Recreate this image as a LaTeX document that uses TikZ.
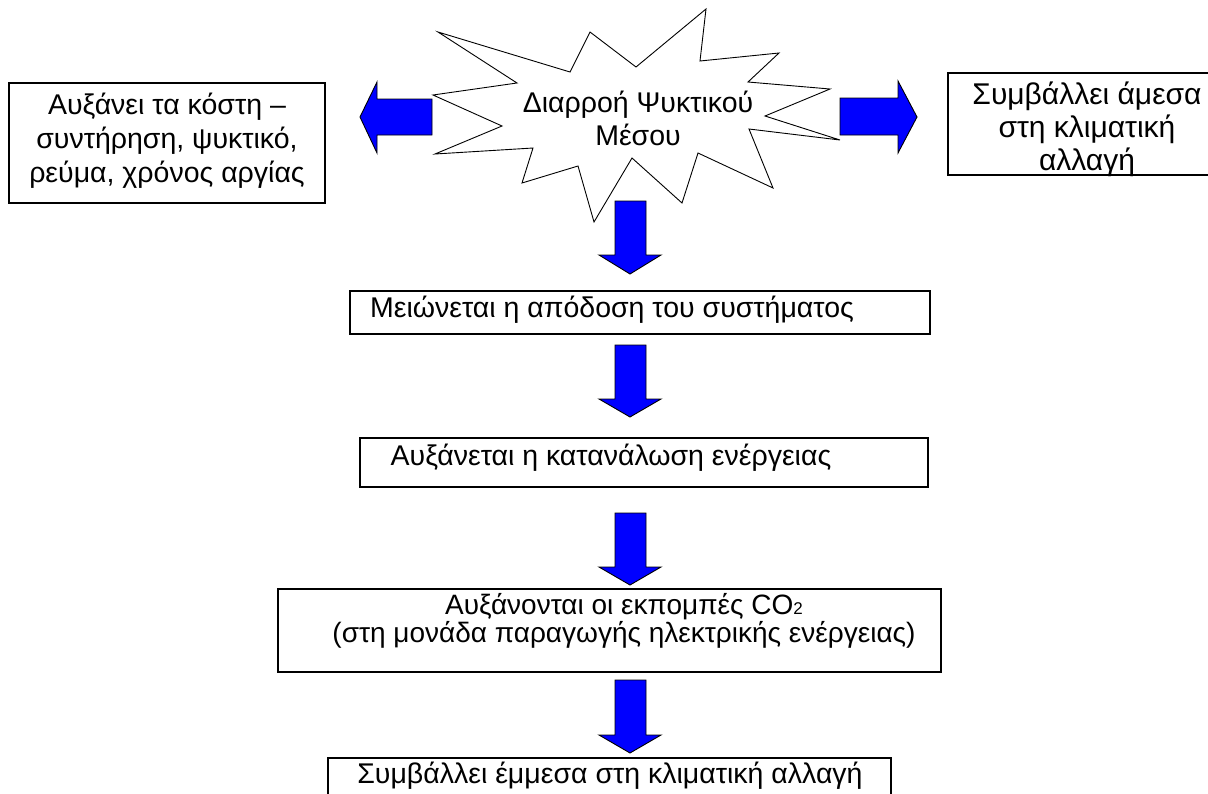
\documentclass[tikz,border=0pt]{standalone}
\usepackage{fontspec}
\setmainfont{Liberation Sans}
\begin{document}
\begin{tikzpicture}[x=1pt,y=-1pt,
  box/.style={draw, line width=1.6pt, inner sep=0pt},
  bigtxt/.style={font=\fontsize{28.5}{34}\selectfont, align=center, inner sep=0pt},
  smalltxt/.style={font=\fontsize{28.5}{28}\selectfont, align=center, inner sep=0pt},
  blockarrow/.style={draw, line width=0.9pt, fill=blue, line join=miter},
  burst/.style={draw, line width=0.9pt, fill=white, line join=miter}]
\useasboundingbox (0,0) rectangle (1208,793);
\clip (0,0) rectangle (1208,793);

% starburst
\draw[burst] (438,32) -- (570,72) -- (590,32) -- (636,67) -- (706,9) -- (700,61)
  -- (779,53) -- (748,82) -- (830,89) -- (765,116) -- (840,140) -- (749,129)
  -- (773,188) -- (698,153) -- (682,203) -- (632,158) -- (594,222) -- (578,166)
  -- (522,183) -- (533,148) -- (435,154) -- (502,126) -- (433,95) -- (517,83) -- cycle;
\node[bigtxt, font=\fontsize{28.5}{33}\selectfont] (burstText) at (638,118) {Διαρροή Ψυκτικού\\Μέσου};

% boxes
\node[box, minimum width=316pt, minimum height=120pt] (lbox) at (167,143) {};
\node[bigtxt] (ltxt) at (167,141) {Αυξάνει τα κόστη –\\συντήρηση, ψυκτικό,\\ρεύμα, χρόνος αργίας};

\node[box, minimum width=280pt, minimum height=102pt] (rbox) at (1088,124) {};
\node[bigtxt, font=\fontsize{30}{33}\selectfont] (rtxt) at (1087,129) {Συμβάλλει άμεσα\\στη κλιματική\\αλλαγή};

\node[box, minimum width=580pt, minimum height=43pt] (b1) at (640,312.5) {};
\node[smalltxt] (t1) at (612,310) {Μειώνεται η απόδοση του συστήματος};

\node[box, minimum width=568pt, minimum height=49pt] (b2) at (644,462.5) {};
\node[smalltxt] (t2) at (611,458) {Αυξάνεται η κατανάλωση ενέργειας};

\node[box, minimum width=663pt, minimum height=83pt] (b3) at (609.5,630.5) {};
\node[smalltxt, font=\fontsize{28}{28}\selectfont] (t3) at (624,621) {Αυξάνονται οι εκπομπές CO{\fontsize{17}{17}\selectfont 2}\\(στη μονάδα παραγωγής ηλεκτρικής ενέργειας)};

\node[box, minimum width=563pt, minimum height=70pt] (b4) at (609.5,793) {};
\node[smalltxt] (t4) at (610,776) {Συμβάλλει έμμεσα στη κλιματική αλλαγή};

% block arrows
\draw[blockarrow] (432,99) -- (377,99) -- (377,82) -- (360,117) -- (377,153) -- (377,135) -- (432,135) -- cycle;
\draw[blockarrow] (840,98) -- (898,98) -- (898,81) -- (917,117) -- (898,153) -- (898,135) -- (840,135) -- cycle;
\foreach \top/\base/\tip in {201/255/274, 345/399/417, 513/567/585, 680/735/753}{
  \draw[blockarrow] (615,\top) -- (646,\top) -- (646,\base) -- (661,\base) -- (630,\tip)
    -- (599,\base) -- (615,\base) -- cycle;
}
\end{tikzpicture}
\end{document}
